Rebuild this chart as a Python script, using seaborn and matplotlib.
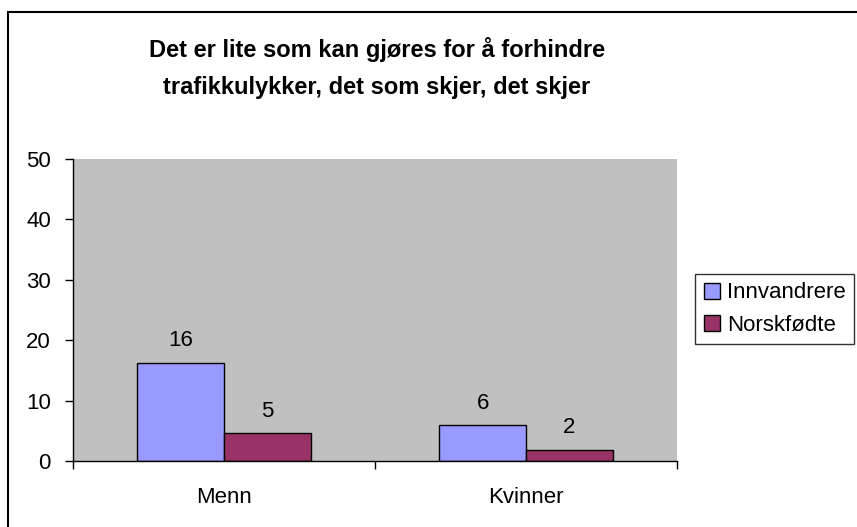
import pandas as pd
import matplotlib
matplotlib.use("Agg")
import matplotlib.pyplot as plt
import seaborn as sns
from matplotlib.patches import Rectangle

# data lest av fra figuren
kjonn = ["Menn", "Kvinner"]
grupper = ["Innvandrere", "Norskfødte"]
innvandrere = [16.3, 6.0]
norskfodte = [4.6, 1.9]
y_ticks = [0, 10, 20, 30, 40, 50]
tittel = "Det er lite som kan gjøres for å forhindre\ntrafikkulykker, det som skjer, det skjer"

df = pd.DataFrame({
    "kjonn": kjonn * 2,
    "gruppe": [grupper[0]] * 2 + [grupper[1]] * 2,
    "verdi": innvandrere + norskfodte,
})

sns.set_style("white")
plt.rcParams["font.family"] = ["Liberation Sans", "DejaVu Sans"]
plt.rcParams["text.color"] = "black"
plt.rcParams["xtick.color"] = "black"
plt.rcParams["ytick.color"] = "black"
plt.rcParams["xtick.labelcolor"] = "black"
plt.rcParams["ytick.labelcolor"] = "black"

fig = plt.figure(figsize=(8.57, 5.27), dpi=100)
ax = fig.add_axes([73 / 857, 1 - 461 / 527, (677 - 73) / 857, (461 - 159) / 527])
ax.set_facecolor("#C0C0C0")

sns.barplot(data=df, x="kjonn", y="verdi", hue="gruppe", ax=ax,
            palette=["#9999FF", "#993366"], width=0.573, gap=0,
            edgecolor="black", linewidth=1, saturation=1, errorbar=None)

for cont in ax.containers:
    ax.bar_label(cont, fmt="%.0f", padding=8, fontsize=16, color="black")

ax.set_xlim(-0.5, 1.5)
ax.set_ylim(0, 50)
ax.set_yticks(y_ticks)
ax.set_xlabel("")
ax.set_ylabel("")
# kategorigrenser som hovedticks, navn som minor-ticks
ax.set_xticks([-0.5, 0.5, 1.5], minor=False)
ax.set_xticklabels([])
ax.set_xticks([0, 1], minor=True)
ax.set_xticklabels(kjonn, minor=True)
ax.tick_params(axis="x", which="major", direction="out", length=6, width=1, color="black", bottom=True)
ax.tick_params(axis="x", which="minor", length=0, pad=19, labelsize=16)
ax.tick_params(axis="y", direction="out", length=6, width=1, color="black", left=True, pad=10, labelsize=16)

for side in ["top", "right"]:
    ax.spines[side].set_visible(False)
for side in ["left", "bottom"]:
    ax.spines[side].set_color("black")
    ax.spines[side].set_linewidth(1)

leg = ax.legend(loc="center left", bbox_to_anchor=(695 / 857, 1 - 309 / 527),
                bbox_transform=fig.transFigure, frameon=True, fancybox=False,
                fontsize=16, handlelength=0.73, handleheight=0.73, handletextpad=0.3,
                borderpad=0.4, labelspacing=0.5, borderaxespad=0)
leg.get_frame().set_edgecolor("black")
leg.get_frame().set_linewidth(1)

fig.text(0.44, 1 - 68 / 527, tittel, ha="center", va="center", fontsize=17,
         fontweight="bold", linespacing=1.75)

fig.patches.append(Rectangle((8 / 857, -0.1), 1.2, 1 - 12 / 527 + 0.1, transform=fig.transFigure,
                             fill=False, edgecolor="black", linewidth=1.5, zorder=-1))

fig.savefig("out.png", dpi=100)
